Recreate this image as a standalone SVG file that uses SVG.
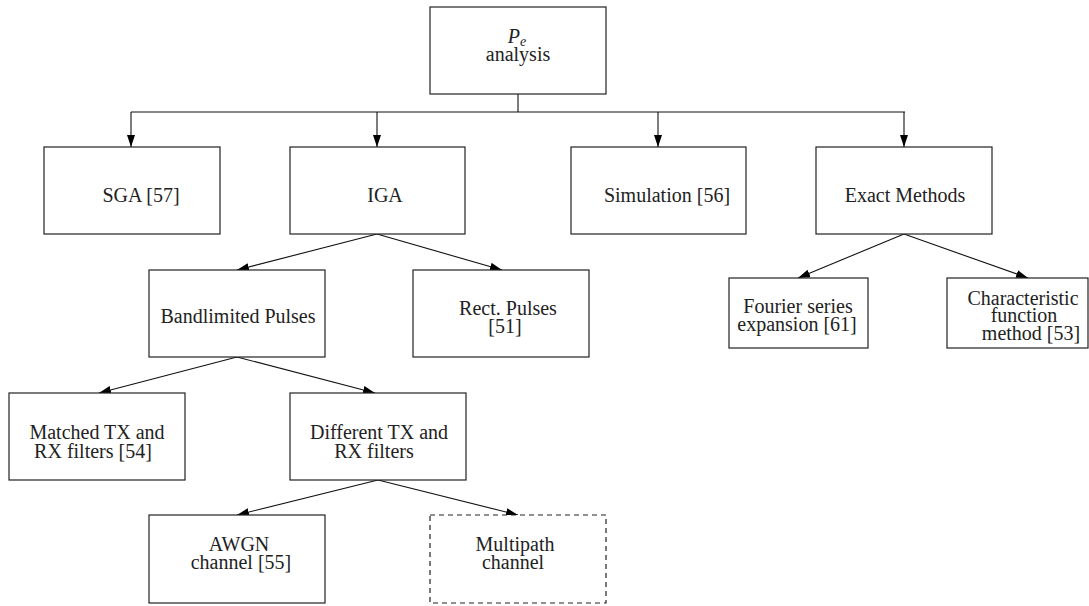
<svg xmlns="http://www.w3.org/2000/svg" width="1089" height="606" viewBox="0 0 1089 606">
<style>
.box{fill:#fff;stroke:#222;stroke-width:1.2}
.dash{stroke-dasharray:5,4}
.t{font-family:"Liberation Serif","DejaVu Serif",serif;font-size:20px;fill:#222;text-anchor:middle}
.edge{fill:none;stroke:#111;stroke-width:1.1}
</style>
<defs>
<marker id="ah" markerUnits="userSpaceOnUse" markerWidth="13" markerHeight="9" refX="12" refY="4" orient="auto">
<path d="M0,0 L12,4 L0,8 z" fill="#000"/>
</marker>
</defs>
<g id="connectors">
<path class="edge" d="M518,94 V112 M131,112 H905"/>
<path class="edge" d="M131,112 V147" marker-end="url(#ah)"/>
<path class="edge" d="M377,112 V147" marker-end="url(#ah)"/>
<path class="edge" d="M658,112 V147" marker-end="url(#ah)"/>
<path class="edge" d="M904,112 V147" marker-end="url(#ah)"/>
<path class="edge" d="M377,234 L237,270" marker-end="url(#ah)"/>
<path class="edge" d="M377,234 L502,270" marker-end="url(#ah)"/>
<path class="edge" d="M904,234 L798,278" marker-end="url(#ah)"/>
<path class="edge" d="M904,234 L1028,278" marker-end="url(#ah)"/>
<path class="edge" d="M237,357 L99,393" marker-end="url(#ah)"/>
<path class="edge" d="M237,357 L375,393" marker-end="url(#ah)"/>
<path class="edge" d="M378,480 L237,515" marker-end="url(#ah)"/>
<path class="edge" d="M378,480 L518,515" marker-end="url(#ah)"/>
</g>
<g id="pe-analysis">
<rect class="box" x="430" y="7" width="176" height="87"/>
<text class="t" x="517" y="43"><tspan font-style="italic">P</tspan><tspan font-style="italic" font-size="14" dy="3">e</tspan></text>
<text class="t" x="518" y="61">analysis</text>
</g>
<g id="sga">
<rect class="box" x="44" y="147" width="176" height="87"/>
<text class="t" x="141" y="202">SGA [57]</text>
</g>
<g id="iga">
<rect class="box" x="290" y="147" width="175" height="87"/>
<text class="t" x="385" y="202">IGA</text>
</g>
<g id="simulation">
<rect class="box" x="571" y="147" width="175" height="87"/>
<text class="t" x="667" y="202">Simulation [56]</text>
</g>
<g id="exact">
<rect class="box" x="816" y="147" width="176" height="87"/>
<text class="t" x="905" y="202">Exact Methods</text>
</g>
<g id="bandlimited">
<rect class="box" x="149" y="270" width="176" height="87"/>
<text class="t" x="238" y="323">Bandlimited Pulses</text>
</g>
<g id="rect-pulses">
<rect class="box" x="413" y="270" width="176" height="87"/>
<text class="t" x="508" y="315">Rect. Pulses</text>
<text class="t" x="505" y="333">[51]</text>
</g>
<g id="fourier">
<rect class="box" x="729" y="278" width="139" height="70"/>
<text class="t" x="798" y="313">Fourier series</text>
<text class="t" x="797" y="331">expansion [61]</text>
</g>
<g id="characteristic">
<rect class="box" x="947" y="278" width="141" height="70"/>
<text class="t" x="1023" y="305">Characteristic</text>
<text class="t" x="1024" y="322">function</text>
<text class="t" x="1031" y="340">method [53]</text>
</g>
<g id="matched">
<rect class="box" x="9" y="393" width="176" height="87"/>
<text class="t" x="97" y="439">Matched TX and</text>
<text class="t" x="93" y="458">RX filters [54]</text>
</g>
<g id="different">
<rect class="box" x="290" y="393" width="176" height="87"/>
<text class="t" x="379" y="439">Different TX and</text>
<text class="t" x="374" y="458">RX filters</text>
</g>
<g id="awgn">
<rect class="box" x="149" y="515" width="176" height="88"/>
<text class="t" x="239" y="551">AWGN</text>
<text class="t" x="241" y="569">channel [55]</text>
</g>
<g id="multipath">
<rect class="box dash" x="430" y="515" width="176" height="88"/>
<text class="t" x="515" y="551">Multipath</text>
<text class="t" x="513" y="569">channel</text>
</g>
</svg>
